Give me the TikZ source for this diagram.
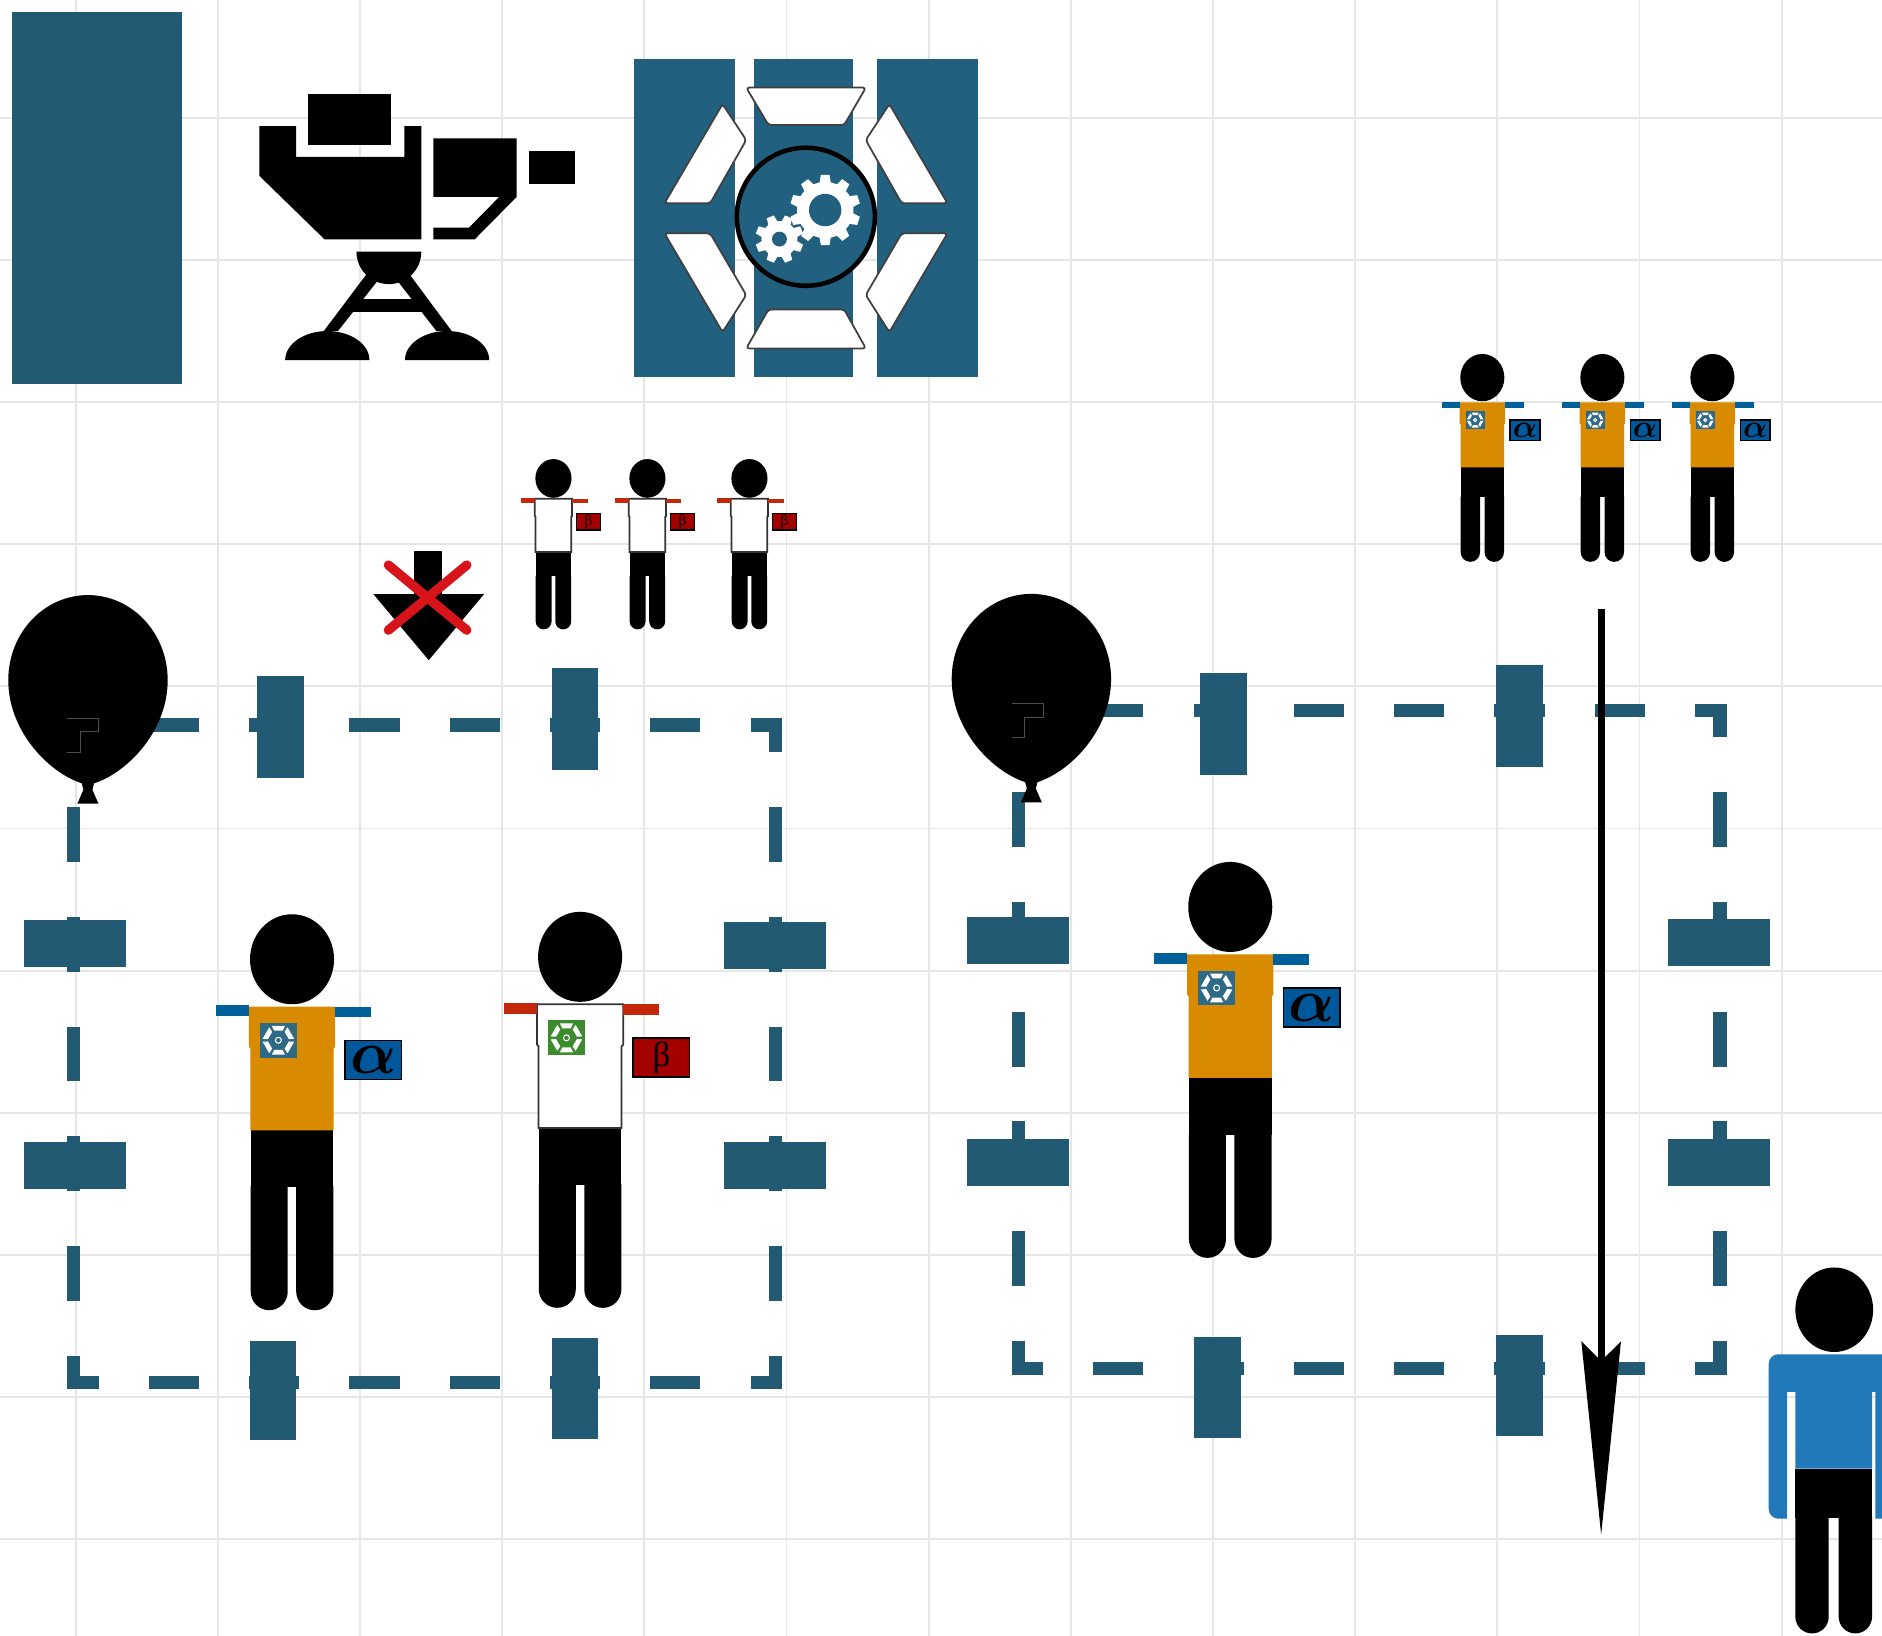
\documentclass[tikz,border=0pt]{standalone}
\usepackage{bm}
\usepackage{fontspec}
\usepackage{tikz}
\usetikzlibrary{arrows.meta}
\newfontfamily\badgefont{Liberation Serif}
\definecolor{gridgray}{HTML}{E6E6E6}
\definecolor{roomblue}{HTML}{225A73}
\definecolor{boxblue}{HTML}{21607F}
\definecolor{shirtorange}{HTML}{D88A00}
\definecolor{armblue}{HTML}{00609A}
\definecolor{badgeblue}{HTML}{00589A}
\definecolor{armred}{HTML}{C4280A}
\definecolor{badgered}{HTML}{A30000}
\definecolor{logoblue}{HTML}{2E6A85}
\definecolor{logogreen}{HTML}{3C8C2E}
\definecolor{personblue}{HTML}{2179B9}
\definecolor{crossred}{HTML}{D8141B}
\newcommand{\badgealpha}{\fontsize{16}{16}\selectfont$\bm{\alpha}$}
\newcommand{\badgebeta}{\badgefont\fontsize{10}{10}\selectfont β}
\tikzset{
  gridline/.style={draw=gridgray,line width=0.55pt},
  wallh/.style={draw=roomblue,line width=1.31mm,
                dash pattern=on 5.0125mm off 5.0125mm,dash phase=1.8525mm},
  wallv/.style={draw=roomblue,line width=1.31mm,
                dash pattern=on 5.482mm off 5.482mm,dash phase=2.087mm},
  doorblock/.style={fill=roomblue},
  panelcut/.style={fill=white,draw=black!75,line width=0.5pt,rounded corners=0.3mm},
  cornerghost/.style={draw=black!70,line width=0.25pt},
  fallarrow/.style={-{Stealth[length=19.3mm,width=3.9mm,inset=1.9mm]},
                    line width=0.72mm},
  alpha shirt/.style={fill=shirtorange},
  beta shirt/.style={fill=white,draw=black!80,line width=0.5pt},
  badgebox/.style={draw=black,line width=0.4pt},
  % figure with head at the origin: shirt, arm colour, badge, letter, logo
  pics/person/.style n args={5}{code={
    \fill[black] (-34.4,142) rectangle (34.4,190);
    \fill[black] (-34.4,189) -- (-34.4,277)
      arc[start angle=180,end angle=0,radius=15.4] -- (-3.6,189) -- cycle;
    \fill[black] (3.5,189) -- (3.5,277)
      arc[start angle=180,end angle=0,radius=15.45] -- (34.4,189) -- cycle;
    \path[#1] (-36,39.5) -- (36,39.5) -- (36,73) -- (34.6,74.5) -- (34.6,142.5)
      -- (-34.6,142.5) -- (-34.6,74.5) -- (-36,73) -- cycle;
    \fill[#2] (-63.5,38.5) rectangle (-36,47.5);
    \fill[#2] (36,39.5) rectangle (66,48.5);
    \fill[black] (0,0) ellipse[x radius=35,y radius=37.5];
    % shirt logo
    \fill[#5] (-26.6,53) rectangle (3.9,82);
    \foreach \a in {0,60,...,300}
      \fill[white,shift={(-11.35,67.5)},rotate=\a]
        (-5.5,-12) -- (5.5,-12) -- (3.5,-8) -- (-3.5,-8) -- cycle;
    \draw[white,line width=0.3pt] (-11.35,67.5) circle (2.5);
    % badge
    \path[badgebox,fill=#3] (44.2,67.5) rectangle (91.4,100);
    \node[transform shape,inner sep=0pt] (-tag) at (67.8,84) {#4};
  }},
}

\begin{document}
\begin{tikzpicture}[x=0.12mm,y=-0.12mm]
  \path[use as bounding box] (0,0) rectangle (1568,1363);
  \clip (0,0) rectangle (1568,1363);

  % grid
  \foreach \i in {0,...,12}
    \draw[gridline] ({63+118.45*\i},0) -- ({63+118.45*\i},1363);
  \foreach \i in {0,...,10}
    \draw[gridline] (0,{98+118.45*\i}) -- (1568,{98+118.45*\i});

  % plain block top left
  \fill[roomblue] (9.9,10) rectangle (151.8,320);

  % camera on its stand
  \fill[black] (257,78.3) rectangle (326,120.6);
  \fill[black] (216,105) -- (246.7,105) -- (246.7,130.6) -- (337,130.6) -- (337,105)
    -- (351,105) -- (351,199.4) -- (270.4,199.4) -- (216,146.4) -- cycle;
  \fill[black] (361,115.3) -- (430.5,115.3) -- (430.5,164) -- (395.5,199.4)
    -- (361,199.4) -- (361,189.7) -- (390.7,189.7) -- (416,164) -- (361,164) -- cycle;
  \fill[black] (441,125.6) rectangle (479,153.3);
  \fill[black] (297,209.7) -- (351,209.7) arc[start angle=0,end angle=180,radius=27];
  \fill[black] (305.5,228.3) -- (314,234.7) -- (281.6,275.8) -- (269.8,275.8) -- cycle;
  \fill[black] (341,228.3) -- (331.7,234.7) -- (363.6,275.8) -- (376.3,275.8) -- cycle;
  \fill[black] (293,249.4) rectangle (354,259.7);
  \fill[black] (237.6,300) -- (307.8,300)
    arc[start angle=0,end angle=-180,x radius=35.1,y radius=24.2];
  \fill[black] (337.4,300) -- (407.6,300)
    arc[start angle=0,end angle=-180,x radius=35.1,y radius=24.2];

  % gear panel
  \fill[boxblue] (528.3,49) rectangle (612.5,314.4);
  \fill[boxblue] (627.8,49) rectangle (711,314.4);
  \fill[boxblue] (730.6,49) rectangle (814.7,314.4);
  \path[panelcut] (621.7,73) -- (721.4,73) -- (703.3,104.2) -- (640.3,104.2) -- cycle;
  \path[panelcut] (640.3,257.8) -- (703.3,257.8) -- (721.4,290.3) -- (621.7,290.3) -- cycle;
  \path[panelcut] (602,86.7) -- (621.7,116.7) -- (591.7,169.4) -- (553.6,169.4) -- cycle;
  \path[panelcut] (553.6,194.4) -- (591.7,194.4) -- (621.7,245.8) -- (602,276.7) -- cycle;
  \path[panelcut] (741,86.7) -- (721.3,116.7) -- (751.3,169.4) -- (789.4,169.4) -- cycle;
  \path[panelcut] (789.4,194.4) -- (751.3,194.4) -- (721.3,245.8) -- (741,276.7) -- cycle;
  \filldraw[fill=boxblue,draw=black,line width=1.3pt] (671.4,180.6) circle (57.5);
  \fill[white] (687.5,175) circle (23.5);
  \foreach \a in {0,36,...,324}
    \fill[white,shift={(687.5,175)},rotate=\a]
      (-3.6,-29.2) -- (3.6,-29.2) -- (5,-21) -- (-5,-21) -- cycle;
  \fill[boxblue] (687.5,175) circle (13.5);
  \fill[white] (649.4,199.2) circle (15);
  \foreach \a in {22.5,67.5,...,337.5}
    \fill[white,shift={(649.4,199.2)},rotate=\a]
      (-3.2,-20) -- (3.2,-20) -- (4.2,-13) -- (-4.2,-13) -- cycle;
  \fill[boxblue] (649.4,199.2) circle (6.2);

  % crossed-out drop
  \fill[black] (345,459.2) rectangle (368.6,496);
  \fill[black] (311.1,495) -- (403.3,495) -- (357.2,550) -- cycle;
  \draw[crossred,line width=0.94mm,line cap=round]
    (323.6,470.8) -- (388.9,525) (388.9,470.8) -- (323.6,525);

  % dashed rooms
  \foreach \rx/\ry in {61.4/604, 848.2/591.6}{
    \draw[wallh] ({\rx-5.45},\ry) -- ({\rx+590.25},\ry);
    \draw[wallh] ({\rx-5.45},{\ry+548.2}) -- ({\rx+590.25},{\ry+548.2});
    \draw[wallv] (\rx,{\ry-5.45}) -- (\rx,{\ry+553.65});
    \draw[wallv] ({\rx+584.8},{\ry-5.45}) -- ({\rx+584.8},{\ry+553.65});
  }
  \foreach \ax/\ay/\bx/\by in {
      214.2/563.3/253.1/647.8, 459.8/556.8/498.6/641.2,
      208.4/1117/246.8/1200, 459.8/1115/498.6/1199,
      20.1/766.5/104.9/805.3, 20.1/951.5/104.9/990.3,
      603/768.5/688.3/807.3, 603/951.5/688.3/990.3,
      1000/560.7/1039.3/645.3, 1246.8/554/1285.7/638.7,
      995/1114.2/1034.3/1198, 1246.8/1112.5/1285.7/1196,
      805.7/764.3/890.7/803.2, 805.7/949.2/890.7/988.2,
      1389.5/766/1475/805, 1389.5/949.2/1475/988.2}
    \fill[doorblock] (\ax,\ay) rectangle (\bx,\by);

  % balloons over the room corners
  \foreach \dx/\dy/\cx/\cy in {0/0/55.6/598.6, 786/-1/842.8/586.4}{
    \begin{scope}[shift={(\dx,\dy)}]
      \fill[black] (73.3,654) .. controls (45,648) and (6.9,612) .. (6.9,566.7)
        .. controls (6.9,527) and (37,495.8) .. (73.3,495.8)
        .. controls (109.6,495.8) and (139.7,527) .. (139.7,566.7)
        .. controls (139.7,612) and (101.6,648) .. (73.3,654) -- cycle;
      \fill[black] (68,652) -- (78.5,652) -- (77,658) -- (82,669.5)
        -- (64.5,669.5) -- (69.5,658) -- cycle;
    \end{scope}
    \draw[cornerghost] (\cx,\cy) -- ++(26.3,0) -- ++(0,11.1) -- ++(-15.2,0)
      -- ++(0,17.3) -- ++(-11.1,0);
  }

  % people
  \pic[scale=0.43] (sb1) at (461.1,398.6)
    {person={beta shirt}{armred}{badgered}{\badgebeta}{white}};
  \pic[scale=0.43] (sb2) at (539.4,398.6)
    {person={beta shirt}{armred}{badgered}{\badgebeta}{white}};
  \pic[scale=0.43] (sb3) at (624.4,398.6)
    {person={beta shirt}{armred}{badgered}{\badgebeta}{white}};
  \pic[scale=0.525] (sa1) at (1235,314.6)
    {person={alpha shirt}{armblue}{badgeblue}{\badgealpha}{logoblue}};
  \pic[scale=0.525] (sa2) at (1335,314.6)
    {person={alpha shirt}{armblue}{badgeblue}{\badgealpha}{logoblue}};
  \pic[scale=0.525] (sa3) at (1426.7,314.6)
    {person={alpha shirt}{armblue}{badgeblue}{\badgealpha}{logoblue}};
  \pic (alphaL) at (243.3,799.2)
    {person={alpha shirt}{armblue}{badgeblue}{\badgealpha}{logoblue}};
  \pic (betaL) at (483.3,797.2)
    {person={beta shirt}{armred}{badgered}{\badgebeta}{logogreen}};
  \pic (alphaR) at (1025,755.6)
    {person={alpha shirt}{armblue}{badgeblue}{\badgealpha}{logoblue}};

  % visitor at the edge
  \fill[black] (1528.2,1091.2) ellipse[x radius=32.4,y radius=35.2];
  \fill[personblue] (1488.9,1265.3) -- (1481.6,1265.3)
    arc[start angle=90,end angle=180,radius=8] -- (1473.6,1136.3)
    arc[start angle=180,end angle=270,radius=8] -- (1590,1128.3) -- (1590,1265.3)
    -- (1562.5,1265.3) -- (1562.5,1159.7) -- (1559.7,1159.7) -- (1559.7,1223.6)
    -- (1495.8,1223.6) -- (1495.8,1159.7) -- (1488.9,1159.7) -- cycle;
  \fill[black] (1495.8,1223.6) rectangle (1559.7,1265);
  \fill[black] (1495.8,1264) -- (1495.8,1347)
    arc[start angle=180,end angle=0,radius=13.9] -- (1523.6,1264) -- cycle;
  \fill[black] (1531.9,1264) -- (1531.9,1347)
    arc[start angle=180,end angle=0,radius=13.9] -- (1559.7,1264) -- cycle;

  % drop line
  \coordinate (droptop) at (1334,507.3);
  \coordinate (dropend) at (1334,1279);
  \draw[fallarrow] (droptop) -- (dropend);
\end{tikzpicture}
\end{document}
